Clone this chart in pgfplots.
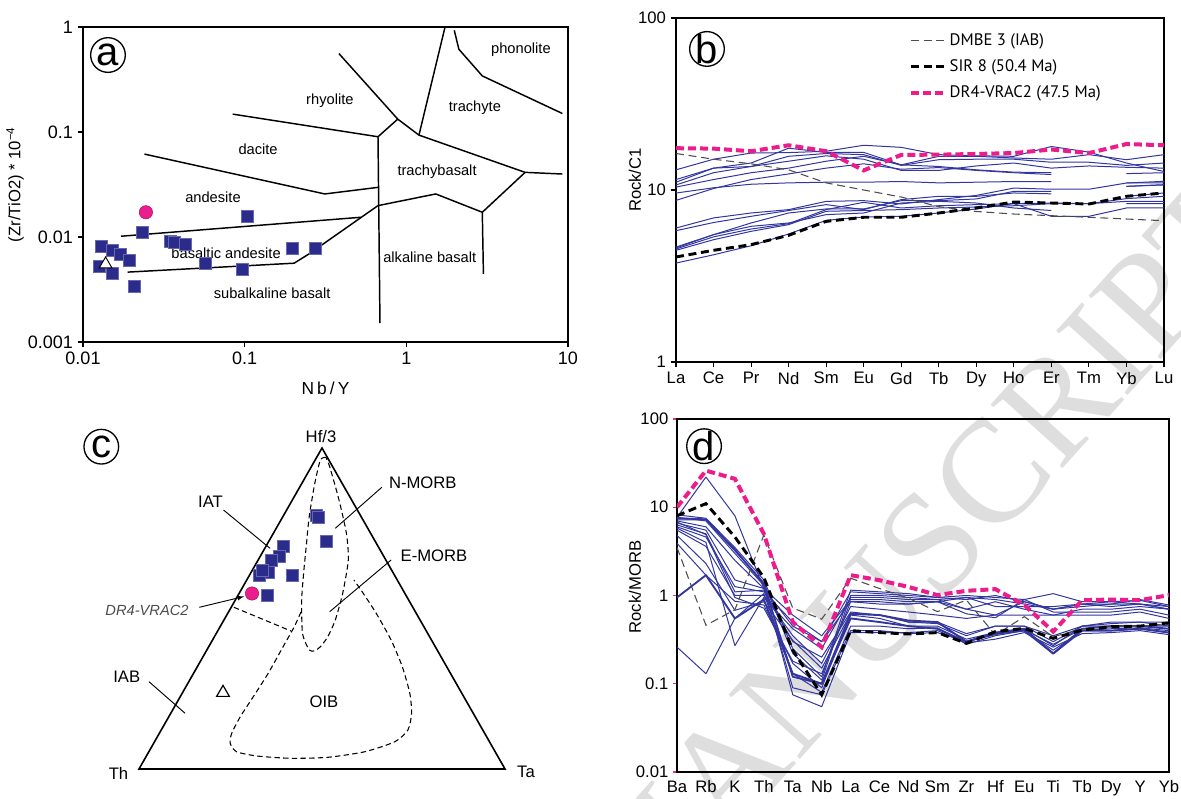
\documentclass[border=0pt]{standalone}
\usepackage{fontspec}
\setmainfont{Liberation Sans}
\newfontfamily\legfont{PT Sans}
\newfontfamily\wmfont{Liberation Serif}
\usepackage{pgfplots}
\pgfplotsset{compat=1.18}
\definecolor{navy}{HTML}{33369E}
\definecolor{sqblue}{HTML}{2B2B8C}
\definecolor{sqedge}{HTML}{6668B0}
\definecolor{pinkm}{HTML}{EC1C8C}
\definecolor{dmbe}{HTML}{4D4D4D}
\definecolor{tickred}{HTML}{E8336B}
\pgfplotsset{
  panel/.style={scale only axis, anchor=south west,
    tick label style={font=\fontsize{12.5}{13}\selectfont},
    label style={font=\fontsize{12.5}{14}\selectfont},
    axis line style={black, line width=1pt},
    tick style={black, line width=0.8pt},
    tick align=outside, major tick length=4pt},
  field/.style={black, line width=1.1pt, line join=round},
  bl/.style={navy, line width=0.75pt, line join=round, forget plot},
  blt/.style={navy, line width=1.4pt, line join=round, forget plot},
  pinkd/.style={pinkm, line width=3pt, dash pattern=on 6pt off 3pt},
  sird/.style={black, line width=2.2pt, dash pattern=on 6pt off 3.5pt},
  dmbed/.style={dmbe, line width=0.8pt, dash pattern=on 6pt off 3.5pt},
}
\newcommand{\circlabel}[2]{%
  \node[draw, circle, line width=1pt, minimum size=26pt, inner sep=0pt] at #1 {};
  \node[font=\fontsize{30}{30}\selectfont, inner sep=0pt] at #1 {#2};}
\begin{document}
\begin{tikzpicture}
\path[use as bounding box] (0pt,0pt) rectangle (885.75pt,599.25pt);
% watermark
\node[rotate=48, text=black!13, font=\wmfont\fontsize{110}{110}\selectfont] at (690pt,183pt) {MANUSCRIPT};

% ---------------- panel a ----------------
\begin{axis}[panel, at={(62.25pt,342.75pt)}, width=363.75pt, height=236.25pt,
  xmode=log, ymode=log, xmin=0.01, xmax=10, ymin=0.001, ymax=1,
  xminorticks=false, yminorticks=false,
  tick label style={font=\fontsize{13.5}{14}\selectfont},
  xtick={0.01,0.1,1,10}, xticklabels={0.01,0.1,1,10},
  ytick={0.001,0.01,0.1,1}, yticklabels={0.001,0.01,0.1,1},
  xtick pos=bottom, ytick pos=left,
  xlabel={{\addfontfeature{LetterSpace=18}Nb/Y}},
  ylabel={(Zr/TiO2) * 10\textsuperscript{−4}},
  xlabel style={at={(axis description cs:0.5,-0.146)}, anchor=center, font=\fontsize{13}{14}\selectfont},
  ylabel style={at={(axis description cs:-0.14,0.5)}, anchor=center},
  clip=false]
\addplot[field] coordinates {(0.0843,0.148) (0.668,0.0901) (0.687,0.001516)};
\addplot[field] coordinates {(0.668,0.0901) (0.885,0.1326)};
\addplot[field] coordinates {(0.383,0.558) (0.885,0.1326) (1.197,0.0934) (5.43,0.04126) (9.23,0.0398)};
\addplot[field] coordinates {(1.736,1.0) (1.197,0.0934)};
\addplot[field] coordinates {(1.98,0.929) (2.113,0.614) (2.951,0.342) (9.23,0.150)};
\addplot[field] coordinates {(0.02399,0.0616) (0.3130,0.0257) (0.668,0.0297)};
\addplot[field] coordinates {(0.01718,0.01017) (0.526,0.01542)};
\addplot[field] coordinates {(0.0189,0.00463) (0.2023,0.00563) (0.2504,0.00691) (0.668,0.0199) (1.521,0.0257) (2.951,0.0172) (5.43,0.04126)};
\addplot[field] coordinates {(2.951,0.0172) (2.998,0.00446)};
\addplot[only marks, mark=square*, mark size=4.5pt, mark options={fill=sqblue, draw=sqedge, line width=0.6pt}] coordinates {
(0.01298,0.00809)(0.01262,0.00521)(0.01526,0.00752)(0.01701,0.00689)(0.01526,0.00451)(0.01934,0.00594)(0.02088,0.00341)(0.02339,0.01099)(0.03467,0.00902)(0.0366,0.0089)(0.04295,0.00858)(0.05704,0.00562)(0.0972,0.00492)(0.1044,0.01585)(0.198,0.0078)(0.2754,0.00771)};
\addplot[only marks, mark=*, mark size=5pt, mark options={fill=pinkm, draw=pinkm!70!black, line width=0.4pt}] coordinates {(0.0245,0.0172)};
\addplot[only marks, mark=triangle*, mark size=5.5pt, mark options={fill=white, draw=black, line width=0.7pt}] coordinates {(0.0138,0.0055)};
\begin{scope}[font=\fontsize{11}{12}\selectfont]
\node at (rel axis cs:0.903,0.927) {phonolite};
\node at (rel axis cs:0.509,0.765) {rhyolite};
\node at (rel axis cs:0.808,0.743) {trachyte};
\node at (rel axis cs:0.361,0.613) {dacite};
\node at (rel axis cs:0.730,0.540) {trachybasalt};
\node at (rel axis cs:0.268,0.460) {andesite};
\node at (rel axis cs:0.295,0.282) {basaltic andesite};
\node at (rel axis cs:0.715,0.270) {alkaline basalt};
\node at (rel axis cs:0.390,0.155) {subalkaline basalt};
\end{scope}
\circlabel{(rel axis cs:0.0515,0.911)}{a}
\end{axis}

% ---------------- panel b ----------------
\begin{axis}[panel, at={(507pt,327.75pt)}, width=366pt, height=258pt,
  xmin=0, xmax=13, ymode=log, ymin=1, ymax=100, yminorticks=false,
  xtick={0,...,13}, xticklabels={La,Ce,Pr,Nd,Sm,Eu,Gd,Tb,Dy,Ho,Er,Tm,Yb,Lu},
  ytick={1,10,100}, yticklabels={1,10,100},
  xtick pos=bottom, ytick pos=left,
  ylabel={Rock/C1},
  ylabel style={at={(axis description cs:-0.084,0.529)}, anchor=center},
  unbounded coords=jump,
  legend style={at={(axis description cs:0.477,0.962)}, anchor=north west, draw=none, fill=none,
    font=\legfont\fontsize{12.5}{14}\selectfont, row sep=5pt, inner sep=0pt},
  legend cell align=left,
  legend image code/.code={\draw[#1] (0pt,0pt) -- (25.5pt,0pt);},
  /tikz/every even column/.append style={column sep=10pt}]
\addplot[bl] coordinates {(0,13.1)(1,15.1)(2,16.4)(3,16.5)(4,16.8)(5,18.2)(6,17.7)(7,16.05)(8,15.8)(9,15.7)(10,17.9)(11,16.6)(12,14.35)(13,12.8)};
\addplot[bl] coordinates {(0,11.5)(1,13.4)(2,14.35)(3,17.5)(4,16.55)(5,16.55)(6,14.0)(7,15.7)(8,15.7)(9,15.35)(10,15.1)(11,16.05)(12,15.0)(13,16.05)};
\addplot[bl] coordinates {(0,11.1)(1,13.4)(2,13.7)(3,15.7)(4,16.3)(5,16.05)(6,13.9)(7,15.0)(8,15.1)(9,15.1)(10,14.5)(11,14.5)(12,13.9)(13,14.35)};
\addplot[bl] coordinates {(0,10.7)(1,12.6)(2,13.7)(3,14.7)(4,15.8)(5,15.1)(6,13.0)(7,13.0)(8,13.8)(9,14.35)(10,13.4)(11,13.8)(12,13.55)(13,13.4)};
\addplot[bl] coordinates {(0,10.4)(1,11.5)(2,12.6)(3,13.4)(4,14.7)(5,15.7)(6,14.0)(7,13.7)(8,13.1)(9,12.7)(10,12.6)(11,nan)(12,12.45)(13,12.6)};
\addplot[bl] coordinates {(0,9.6)(1,10.3)(2,10.8)(3,11.0)(4,11.1)(5,11.1)(6,11.2)(7,11.0)(8,11.1)(9,11.2)(10,11.2)(11,nan)(12,11.0)(13,11.0)};
\addplot[bl] coordinates {(0,8.7)(1,10.2)(2,11.5)(3,12.4)(4,13.4)(5,14.2)(6,13.2)(7,13.5)(8,13.0)(9,12.6)(10,12.3)(11,nan)(12,10.5)(13,10.7)};
\addplot[bl] coordinates {(0,6.01)(1,6.88)(2,7.35)(3,7.69)(4,8.59)(5,8.67)(6,8.3)(7,8.79)(8,9.3)(9,10.26)(10,10.1)(11,10.1)(12,10.98)(13,11.23)};
\addplot[bl] coordinates {(0,5.8)(1,6.47)(2,7.03)(3,7.6)(4,8.22)(5,7.69)(6,8.79)(7,9.19)(8,9.19)(9,9.61)(10,9.5)(11,nan)(12,10.5)(13,10.74)};
\addplot[bl] coordinates {(0,4.6)(1,5.5)(2,6.43)(3,7.35)(4,7.76)(5,7.76)(6,8.67)(7,8.67)(8,8.87)(9,9.82)(10,9.82)(11,nan)(12,9.19)(13,9.61)};
\addplot[bl] coordinates {(0,4.54)(1,5.34)(2,5.93)(3,6.37)(4,7.69)(5,8.48)(6,7.86)(7,8.1)(8,8.22)(9,8.33)(10,7.03)(11,7.03)(12,7.86)(13,7.86)};
\addplot[bl] coordinates {(0,4.46)(1,5.14)(2,5.75)(3,6.29)(4,7.52)(5,7.6)(6,7.69)(7,7.86)(8,7.97)(9,8.1)(10,8.33)(11,8.33)(12,8.59)(13,8.59)};
\addplot[bl] coordinates {(0,3.76)(1,4.2)(2,4.74)(3,5.55)(4,6.66)(5,6.97)(6,7.03)(7,7.35)(8,7.76)(9,8.33)(10,8.4)(11,8.33)(12,8.91)(13,9.19)};
\addplot[bl] coordinates {(0,4.66)(1,5.5)(2,6.15)(3,6.43)(4,7.19)(5,7.35)(6,8.4)(7,8.59)(8,8.4)(9,7.86)(10,7.6)(11,nan)(12,8.33)(13,8.33)};
\addplot[dmbed] coordinates {(0,16.3)(1,15.1)(2,14.2)(3,13.1)(4,11.0)(5,10.0)(6,9.1)(7,8.0)(8,7.5)(9,7.25)(10,7.09)(11,6.94)(12,6.78)(13,6.63)};
\addlegendentry{DMBE 3 (IAB)}
\addplot[sird] coordinates {(0,4.08)(1,4.46)(2,4.81)(3,5.45)(4,6.57)(5,6.94)(6,6.94)(7,7.35)(8,7.86)(9,8.51)(10,8.40)(11,8.29)(12,9.19)(13,9.61)};
\addlegendentry{SIR 8 (50.4 Ma)}
\addplot[pinkd] coordinates {(0,17.5)(1,17.4)(2,16.8)(3,18.2)(4,16.8)(5,13.0)(6,16.0)(7,16.05)(8,16.2)(9,16.4)(10,17.2)(11,16.4)(12,18.5)(13,18.2)};
\addlegendentry{DR4-VRAC2 (47.5 Ma)}
\circlabel{(rel axis cs:0.0635,0.910)}{b}
\end{axis}

% ---------------- panel c ----------------
\begin{axis}[at={(0pt,0pt)}, anchor=south west, scale only axis, width=442.5pt, height=299.25pt,
  xmin=0, xmax=590, ymin=400, ymax=799, y dir=reverse, axis lines=none, clip=false]
\addplot[black, line width=1.2pt, line join=miter] coordinates {(322,448)(139,769)(505,769)(322,448)(139,769)};
\addplot[black, line width=0.8pt, dash pattern=on 4pt off 2.5pt, smooth, tension=0.4] coordinates {
(325.9,457.3)(320.4,460)(314.8,483.3)(309.2,516.7)(306.2,546.7)(303.6,573.3)(301.7,600)(302.5,633.3)(309.2,650)(314.8,650.7)(320.4,646.7)(327.8,636.7)(335.3,620)(342.7,593.3)(348.3,560)(346.4,533.3)(339,500)(329.7,466.7)(325.9,457.3)};
\addplot[black, line width=0.8pt, dash pattern=on 4pt off 2.5pt, smooth, tension=0.4] coordinates {
(301,612)(294.3,626.7)(283.1,646.7)(268.2,673.3)(253.3,696.7)(240.3,716.7)(231.7,733.3)(230.2,743.3)(236.5,751.7)(257,756)(290.6,758.3)(327.8,757.3)(365,751.7)(394.9,741.7)(407.9,730)(411.6,713.3)(409.8,693.3)(402.3,666.7)(391.1,640)(376.2,613.3)(363.2,593.3)(353.9,580)};
\addplot[black, line width=0.8pt, dash pattern=on 4pt off 2.5pt] coordinates {(233.9,607.3)(291,631)};
\addplot[black, line width=0.7pt] coordinates {(223.5,510)(270,548.3)};
\addplot[black, line width=0.7pt] coordinates {(381.8,487.3)(335.3,528.3)};
\addplot[black, line width=0.7pt] coordinates {(391.1,560)(329.7,611.7)};
\addplot[black, line width=0.7pt] coordinates {(149,681.7)(185.1,713.3)};
\addplot[black, line width=0.7pt, -latex] coordinates {(199.3,607.3)(244,596.5)};
\addplot[only marks, mark=square*, mark size=4.5pt, mark options={fill=sqblue, draw=sqedge, line width=0.6pt}] coordinates {
(316.6,515)(318.5,517.3)(326,541)(283,546.7)(279.4,556)(271.2,560)(268.2,572.7)(258.9,575)(262,570)(292.4,575.7)(267.5,595)};
\addplot[only marks, mark=*, mark size=5pt, mark options={fill=pinkm, draw=pinkm!70!black, line width=0.4pt}] coordinates {(252,593.5)};
\addplot[only marks, mark=triangle, mark size=5.5pt, mark options={draw=black, line width=0.9pt}] coordinates {(223,692.7)};
\begin{scope}[font=\fontsize{12.5}{14}\selectfont]
\node at (axis cs:321,436.7) {Hf/3};
\node at (axis cs:118.5,773.3) {Th};
\node at (axis cs:526,771.7) {Ta};
\node at (axis cs:210.5,501.7) {IAT};
\node at (axis cs:422.8,482.7) {N-MORB};
\node at (axis cs:434,556) {E-MORB};
\node at (axis cs:126.7,676.7) {IAB};
\node at (axis cs:324,701.7) {OIB};
\node[text=black!70, font=\itshape\fontsize{11}{12}\selectfont] at (axis cs:147,610.7) {DR4-VRAC2};
\end{scope}
\circlabel{(axis cs:101.3,446.7)}{c}
\end{axis}

% ---------------- panel d ----------------
\begin{axis}[panel, at={(507.75pt,20.25pt)}, width=369pt, height=264.75pt,
  xmin=0, xmax=17, ymode=log, ymin=0.01, ymax=100, yminorticks=false,
  xtick={0,...,17}, xticklabels={Ba,Rb,K,Th,Ta,Nb,La,Ce,Nd,Sm,Zr,Hf,Eu,Ti,Tb,Dy,Y,Yb},
  ytick={0.01,0.1,1,10,100}, yticklabels={0.01,0.1,1,10,100},
  xtick pos=bottom, ytick pos=left, xtick style={draw=none},
  ytick style={tickred, line width=1pt}, major tick length=3pt,
  ylabel={Rock/MORB},
  ylabel style={at={(axis description cs:-0.0854,0.524)}, anchor=center}]
\addplot[bl] coordinates {(0,7.7)(1,22)(2,8.0)(3,1.2)(4,0.45)(5,0.30)(6,1.10)(7,1.05)(8,1.00)(9,0.95)(10,1.00)(11,0.95)(12,0.90)(13,1.05)(14,0.85)(15,0.85)(16,0.88)(17,0.75)};
\addplot[bl] coordinates {(0,8.2)(1,7.5)(2,3.5)(3,1.5)(4,0.25)(5,0.12)(6,1.15)(7,1.10)(8,1.05)(9,0.95)(10,0.90)(11,1.00)(12,0.85)(13,0.70)(14,0.80)(15,0.85)(16,0.80)(17,0.75)};
\addplot[bl] coordinates {(0,7.2)(1,7.2)(2,3.2)(3,1.4)(4,0.22)(5,0.11)(6,1.00)(7,1.00)(8,0.95)(9,0.90)(10,0.95)(11,0.90)(12,0.80)(13,0.70)(14,0.75)(15,0.80)(16,0.80)(17,0.70)};
\addplot[bl] coordinates {(0,6.6)(1,5.5)(2,1.5)(3,1.2)(4,0.60)(5,0.35)(6,0.90)(7,0.90)(8,0.85)(9,0.85)(10,0.95)(11,0.75)(12,0.75)(13,0.75)(14,0.80)(15,0.75)(16,0.80)(17,0.70)};
\addplot[bl] coordinates {(0,6.0)(1,4.6)(2,1.26)(3,1.1)(4,0.50)(5,0.30)(6,0.85)(7,0.80)(8,0.80)(9,0.85)(10,0.62)(11,0.56)(12,0.90)(13,0.65)(14,0.65)(15,0.65)(16,0.70)(17,0.60)};
\addplot[bl] coordinates {(0,5.5)(1,3.6)(2,1.0)(3,1.0)(4,0.35)(5,0.17)(6,0.75)(7,0.70)(8,0.65)(9,0.60)(10,0.55)(11,0.60)(12,0.60)(13,0.60)(14,0.60)(15,0.60)(16,0.65)(17,0.55)};
\addplot[bl] coordinates {(0,4.8)(1,2.3)(2,0.68)(3,0.85)(4,0.31)(5,0.15)(6,0.63)(7,0.60)(8,0.50)(9,0.50)(10,0.37)(11,0.45)(12,0.45)(13,0.30)(14,0.45)(15,0.50)(16,0.50)(17,0.50)};
\addplot[bl] coordinates {(0,3.9)(1,1.7)(2,0.86)(3,0.78)(4,0.17)(5,0.09)(6,0.60)(7,0.55)(8,0.45)(9,0.45)(10,0.32)(11,0.38)(12,0.42)(13,0.27)(14,0.45)(15,0.45)(16,0.45)(17,0.45)};
\addplot[blt] coordinates {(0,0.95)(1,1.7)(2,0.55)(3,0.90)(4,0.13)(5,0.10)(6,0.55)(7,0.50)(8,0.45)(9,0.42)(10,0.30)(11,0.37)(12,0.40)(13,0.22)(14,0.40)(15,0.40)(16,0.42)(17,0.38)};
\addplot[bl] coordinates {(0,0.26)(1,0.13)(2,0.55)(3,1.05)(4,0.13)(5,0.08)(6,0.45)(7,0.45)(8,0.42)(9,0.43)(10,0.28)(11,0.35)(12,0.40)(13,0.24)(14,0.40)(15,0.42)(16,0.43)(17,0.40)};
\addplot[bl] coordinates {(0,7.7)(1,7.0)(2,3.0)(3,1.3)(4,0.075)(5,0.055)(6,0.38)(7,0.38)(8,0.38)(9,0.40)(10,0.29)(11,0.32)(12,0.38)(13,0.26)(14,0.37)(15,0.38)(16,0.40)(17,0.36)};
\addplot[bl] coordinates {(0,7.0)(1,6.0)(2,2.5)(3,1.2)(4,0.09)(5,0.075)(6,0.40)(7,0.40)(8,0.37)(9,0.38)(10,0.30)(11,0.36)(12,0.41)(13,0.28)(14,0.42)(15,0.40)(16,0.42)(17,0.38)};
\addplot[bl] coordinates {(0,6.3)(1,5.0)(2,1.1)(3,1.15)(4,0.30)(5,0.20)(6,0.65)(7,0.60)(8,0.50)(9,0.48)(10,0.35)(11,0.45)(12,0.45)(13,0.35)(14,0.45)(15,0.48)(16,0.50)(17,0.45)};
\addplot[bl] coordinates {(0,5.8)(1,4.0)(2,0.27)(3,0.95)(4,0.42)(5,0.25)(6,0.95)(7,0.95)(8,0.90)(9,0.90)(10,0.70)(11,0.85)(12,0.70)(13,0.60)(14,0.70)(15,0.70)(16,0.75)(17,0.70)};
\addplot[blt] coordinates {(0,7.5)(1,7.3)(2,3.3)(3,1.35)(4,0.12)(5,0.10)(6,0.62)(7,0.60)(8,0.52)(9,0.50)(10,0.30)(11,0.38)(12,0.42)(13,0.22)(14,0.42)(15,0.45)(16,0.45)(17,0.42)};
\addplot[bl] coordinates {(0,6.8)(1,4.9)(2,0.95)(3,0.72)(4,0.18)(5,0.13)(6,0.85)(7,0.85)(8,0.80)(9,0.85)(10,0.70)(11,0.60)(12,0.85)(13,0.70)(14,0.80)(15,0.80)(16,0.90)(17,0.78)};
\addplot[dmbed] coordinates {(0,3.5)(1,0.46)(2,0.69)(3,4.85)(4,0.72)(5,0.54)(6,1.57)(7,1.20)(8,0.93)(9,0.656)(10,0.889)(11,0.356)(12,0.576)(13,0.341)(14,0.42)(15,0.44)(16,0.45)(17,0.47)};
\addplot[sird] coordinates {(0,8.0)(1,11.0)(2,4.6)(3,1.6)(4,0.24)(5,0.075)(6,0.40)(7,0.38)(8,0.366)(9,0.38)(10,0.287)(11,0.39)(12,0.424)(13,0.327)(14,0.406)(15,0.443)(16,0.45)(17,0.49)};
\addplot[pinkd] coordinates {(0,10)(1,26)(2,21)(3,5.0)(4,0.50)(5,0.26)(6,1.70)(7,1.49)(8,1.25)(9,1.01)(10,1.13)(11,1.18)(12,0.78)(13,0.39)(14,0.885)(15,0.90)(16,0.885)(17,1.01)};
\circlabel{(rel axis cs:0.055,0.923)}{d}
\end{axis}
\end{tikzpicture}
\end{document}
